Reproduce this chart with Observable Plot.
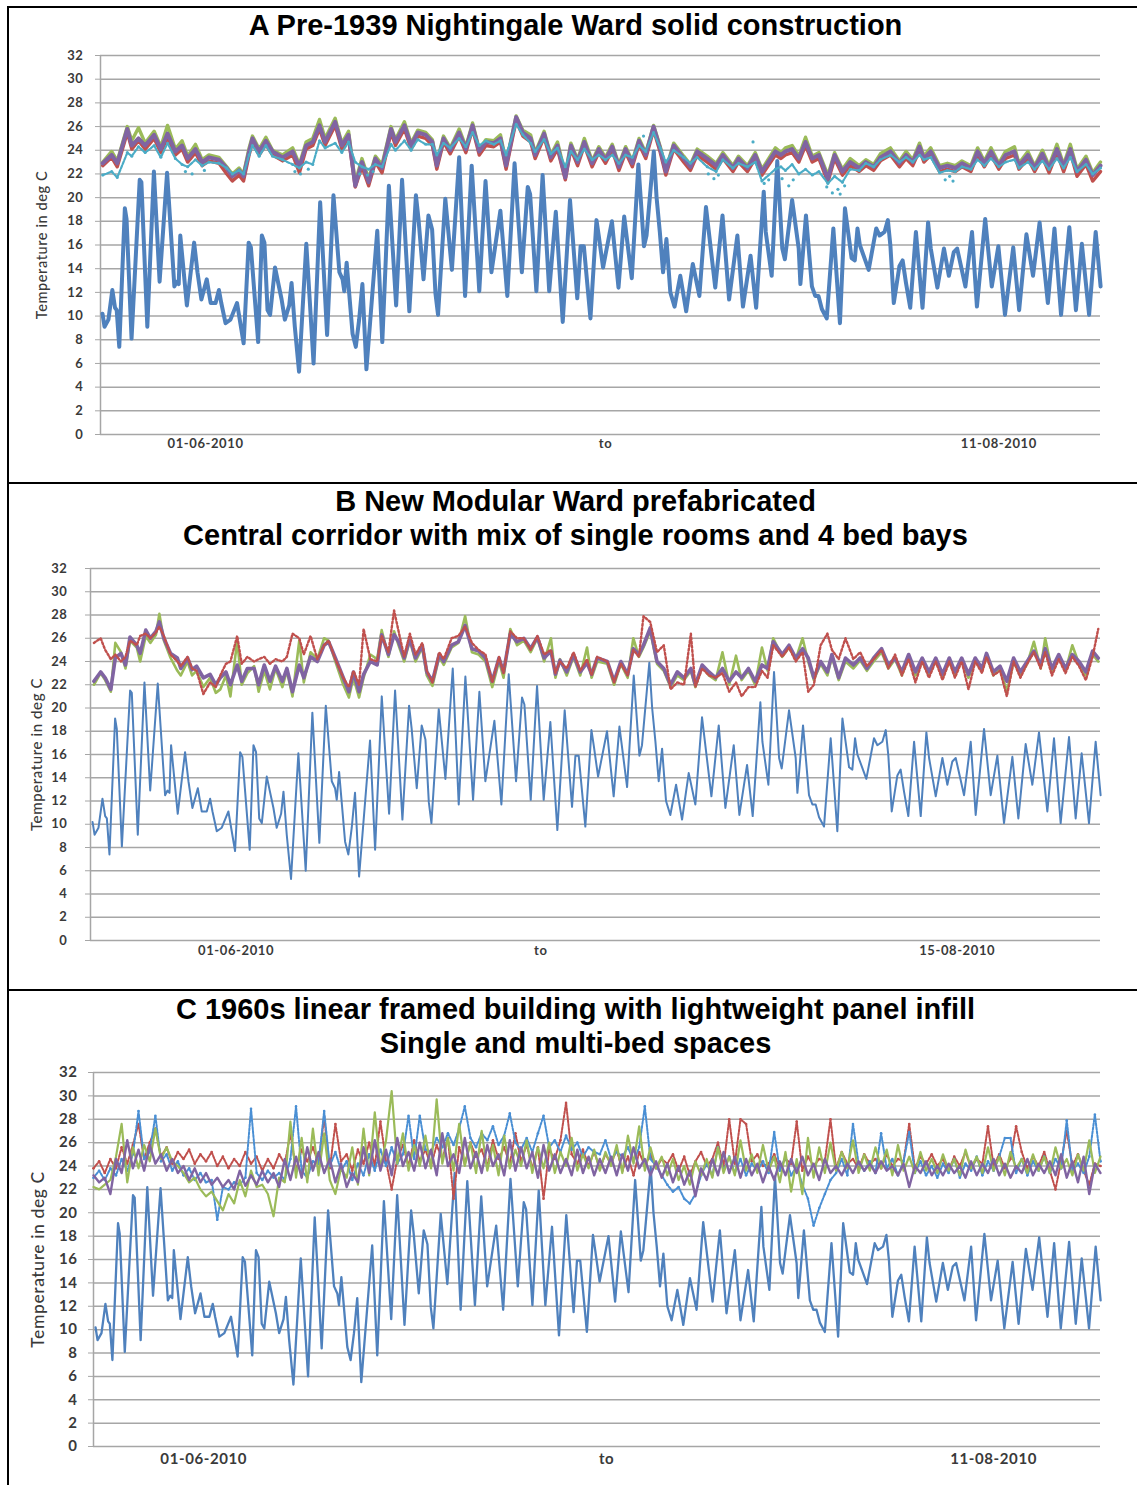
<!DOCTYPE html>
<html>
<head>
<meta charset="utf-8">
<script src="https://cdn.jsdelivr.net/npm/d3@7"></script>
<script src="https://cdn.jsdelivr.net/npm/@observablehq/plot@0.6"></script>
<style>
  body { margin: 0; background: #fff; }
  #page { position: relative; width: 1137px; height: 1485px; background: #fff; overflow: hidden;
          font-family: "Liberation Sans", Arial, sans-serif; }
  .rule { position: absolute; background: #000; }
  .title { position: absolute; left: 14px; width: 1123px; text-align: center; font-weight: bold;
           font-size: 29px; line-height: 34px; color: #000; white-space: nowrap; }
  .chart { position: absolute; left: 0; }
</style>
</head>
<body>
<div id="page">
  <div class="rule" style="left:7px; top:6px; width:1130px; height:2px"></div>
  <div class="rule" style="left:7px; top:482px; width:1130px; height:2px"></div>
  <div class="rule" style="left:7px; top:989px; width:1130px; height:2px"></div>
  <div class="rule" style="left:7px; top:6px; width:2px; height:1479px"></div>

  <div class="title" style="top:8px">A Pre-1939 Nightingale Ward solid construction</div>
  <div class="title" style="top:484px">B New Modular Ward prefabricated<br>Central corridor with mix of single rooms and 4 bed bays</div>
  <div class="title" style="top:992px">C 1960s linear framed building with lightweight panel infill<br>Single and multi-bed spaces</div>

  <div class="chart" id="chartA" style="top:40px"></div>
  <div class="chart" id="chartB" style="top:555px"></div>
  <div class="chart" id="chartC" style="top:1060px"></div>
</div>

<script>
// ---- Shared axis values ---------------------------------------------------
const yTicks = [0, 2, 4, 6, 8, 10, 12, 14, 16, 18, 20, 22, 24, 26, 28, 30, 32];
const yTitle = "Temperature in deg C";

// Logging period runs 89.5 days; x positions are days since the first reading.
const tickDaysA = [9.4, 45.2, 80.4];
const tickTextA = ["01-06-2010", "to", "11-08-2010"];
const tickDaysB = [12.9, 39.9, 76.8];
const tickTextB = ["01-06-2010", "to", "15-08-2010"];
const tickDaysC = [9.8, 45.6, 80.0];
const tickTextC = ["01-06-2010", "to", "11-08-2010"];

// ---- External air temperature (same record on all three charts) -----------
const outdoor = [
  [0.18,10.2],[0.36,9.1],[0.71,9.7],[1.06,12.2],[1.30,10.7],[1.45,10.5],[1.68,7.4],[2.18,19.1],[2.33,18.2],[2.78,8.1],
  [3.51,21.5],[3.66,21.3],[4.19,9.1],[4.78,22.2],[5.29,12.9],[5.96,22.1],[6.61,12.5],[6.82,12.9],[7.00,12.7],[7.14,16.8],
  [7.73,10.9],[8.38,16.2],[8.68,13.7],[9.03,11.4],[9.51,13.1],[9.86,11.1],[10.30,11.1],[10.60,12.2],[10.81,11.1],[11.19,9.4],
  [11.63,9.7],[12.22,11.1],[12.81,7.7],[13.26,16.2],[13.46,15.8],[14.11,7.8],[14.44,16.8],[14.67,16.2],[14.95,10.5],[15.18,10.1],
  [15.62,14.1],[16.21,11.4],[16.50,9.7],[16.89,10.9],[17.10,12.8],[17.39,9.1],[17.77,5.3],[18.42,16.1],[19.07,6.0],[19.66,19.6],
  [20.28,8.4],[20.85,20.2],[21.38,13.7],[21.67,13.1],[21.82,12.1],[22.03,14.5],[22.56,8.5],[22.85,7.4],[23.15,9.7],[23.44,12.7],
  [23.80,5.5],[24.77,17.2],[25.22,7.8],[25.81,21.0],[26.46,10.9],[26.99,21.5],[27.64,10.4],[28.23,20.2],[28.46,18.2],[28.91,13.1],
  [29.35,18.5],[29.68,17.3],[29.98,11.9],[30.21,10.1],[30.86,19.9],[31.45,13.9],[32.10,23.4],[32.63,11.7],[33.22,22.7],[33.90,12.1],
  [34.46,21.4],[34.99,13.7],[35.79,18.9],[36.41,11.7],[37.06,22.9],[37.71,13.7],[38.24,20.9],[38.45,20.3],[39.01,12.1],[39.57,21.9],
  [40.16,12.1],[40.75,18.8],[41.37,9.5],[42.02,19.8],[42.67,11.5],[42.97,15.9],[43.26,15.9],[43.85,9.8],[44.39,18.1],[44.59,16.8],
  [44.98,14.1],[45.77,18.0],[46.36,12.4],[46.87,18.4],[47.55,13.2],[48.14,22.8],[48.64,15.9],[48.87,16.8],[49.52,23.9],[49.77,20.0],
  [50.06,17.1],[50.35,13.7],[50.65,16.5],[51.00,12.0],[51.38,10.8],[51.89,13.4],[52.42,10.4],[53.01,14.4],[53.60,11.7],[54.19,19.2],
  [55.02,12.4],[55.67,18.5],[56.26,11.4],[57.00,16.8],[57.50,10.8],[58.18,15.1],[58.68,10.7],[59.36,20.5],[59.54,17.1],[60.07,13.4],
  [60.57,23.1],[61.02,15.7],[61.25,14.8],[61.90,19.8],[62.49,15.7],[62.64,12.7],[63.14,18.5],[63.67,12.5],[63.97,11.7],[64.26,11.7],
  [64.56,10.6],[65.00,9.8],[65.59,17.4],[66.18,9.4],[66.63,19.1],[67.22,14.9],[67.51,14.7],[67.75,17.4],[67.96,16.0],[68.75,13.9],
  [69.43,17.4],[69.73,16.8],[70.17,17.1],[70.47,18.1],[70.70,15.9],[71.00,11.1],[71.50,14.2],[71.79,14.7],[72.09,12.8],[72.47,10.7],
  [72.98,17.1],[73.57,10.7],[74.07,17.9],[74.31,15.7],[74.90,12.4],[75.49,15.7],[75.93,13.4],[76.37,15.4],[76.67,15.7],[77.41,12.5],
  [78.00,17.1],[78.44,10.8],[79.18,18.2],[79.77,12.5],[80.36,15.9],[80.95,10.1],[81.69,15.8],[82.22,10.5],[82.87,16.9],[83.46,13.4],
  [84.05,17.9],[84.79,11.1],[85.38,17.4],[85.97,10.1],[86.71,17.5],[87.30,10.5],[87.83,16.1],[88.48,10.1],[89.07,17.1],[89.51,12.5]
];

// ---- Ward A: four internal sensors, shared reading times -------------------
const timesA = [
  0.2,1.0,1.5,2.4,2.8,3.4,4.0,4.8,5.4,6.0,
  6.7,7.3,7.8,8.5,9.1,9.7,10.6,11.3,11.8,12.4,
  12.8,13.3,13.6,14.2,14.8,15.4,16.3,17.2,17.8,18.4,
  19.0,19.6,20.1,21.0,21.6,22.2,22.8,23.4,24.0,24.6,
  25.2,26.0,26.4,27.2,27.8,28.4,29.1,29.7,30.1,30.7,
  31.3,32.1,32.7,33.3,33.9,34.5,35.2,35.8,36.3,37.2,
  37.8,38.5,38.9,39.7,40.3,40.9,41.6,42.1,42.7,43.3,
  44.0,44.6,45.2,45.8,46.4,47.0,47.6,48.2,48.8,49.5,
  50.1,50.6,51.3,52.2,52.8,53.4,54.3,55.1,55.7,56.6,
  57.1,57.9,58.6,59.2,60.4,60.9,61.3,61.9,62.5,63.1,
  63.7,64.3,65.1,65.7,66.4,67.1,67.9,68.5,69.2,69.8,
  70.7,71.5,72.1,72.7,73.3,73.7,74.3,75.1,75.8,76.5,
  77.1,77.9,78.5,79.1,79.7,80.4,81.0,81.8,82.2,83.0,
  83.6,84.3,84.9,85.6,86.2,86.8,87.4,88.2,88.8,89.5
];
const wardAPurple = [
  22.9,23.6,22.9,25.8,24.4,25.0,24.4,25.3,24.1,25.4,
  23.9,24.4,23.3,24.1,23.0,23.4,23.2,22.5,21.8,22.3,
  21.8,23.9,25.0,23.9,24.8,23.9,23.4,23.9,22.6,24.4,
  24.7,26.1,24.7,26.4,24.4,25.3,21.0,23.0,21.3,23.3,
  22.5,25.8,24.7,26.1,24.4,25.5,25.3,24.7,22.7,25.0,
  24.0,25.5,24.1,26.1,23.9,24.7,24.6,25.0,22.7,26.8,
  25.5,25.0,23.6,25.4,23.4,24.4,21.7,24.4,23.0,24.7,
  22.9,24.1,23.2,24.3,22.6,24.1,22.9,24.8,23.6,26.0,
  24.1,22.2,24.4,23.3,22.6,23.9,23.3,22.7,23.6,22.5,
  23.3,22.5,23.6,22.2,23.9,23.6,23.9,24.1,23.3,24.7,
  23.3,23.6,21.6,23.6,22.2,23.0,22.5,23.0,22.6,23.4,
  23.9,22.9,23.6,23.0,24.3,23.3,23.9,22.5,22.7,22.5,
  22.9,22.5,23.9,22.9,23.9,22.7,23.6,23.9,22.7,23.6,
  22.5,23.7,22.5,24.1,22.6,24.1,22.2,23.2,21.9,22.7
];
const wardAGreen = [
  23.0,23.9,23.1,26.0,24.8,25.9,24.6,25.6,24.3,26.1,
  24.1,24.8,23.5,24.5,23.2,23.6,23.4,22.6,22.0,22.5,
  22.0,24.2,25.2,24.1,25.1,24.0,23.6,24.2,22.8,24.7,
  25.0,26.6,25.0,26.7,24.6,25.6,21.3,23.3,21.6,23.5,
  22.8,26.0,24.9,26.4,24.6,25.7,25.5,24.9,23.0,25.2,
  24.2,25.8,24.3,26.3,24.1,24.9,24.8,25.3,23.0,26.9,
  25.7,25.3,23.8,25.6,23.6,24.7,22.0,24.6,23.2,25.0,
  23.1,24.3,23.4,24.5,22.8,24.3,23.1,25.0,23.8,26.1,
  24.3,22.4,24.6,23.5,22.8,24.1,23.5,22.9,23.8,22.7,
  23.5,22.7,23.8,22.4,24.2,23.8,24.2,24.4,23.5,25.1,
  23.5,23.8,21.9,23.8,22.4,23.3,22.7,23.2,22.8,23.7,
  24.2,23.1,23.9,23.2,24.6,23.5,24.2,22.7,22.9,22.7,
  23.1,22.7,24.2,23.1,24.2,22.9,23.9,24.3,22.9,23.9,
  22.7,24.0,22.7,24.5,22.8,24.5,22.4,23.5,22.1,23.0
];
const wardARed = [
  22.7,23.4,22.6,25.5,24.1,24.8,24.1,25.0,23.8,25.1,
  23.6,24.1,23.0,23.8,22.7,23.1,22.9,22.0,21.4,21.9,
  21.4,23.6,24.7,23.6,24.5,23.6,23.1,23.6,22.1,24.1,
  24.4,25.8,24.4,26.1,24.1,25.0,20.9,22.6,21.0,23.0,
  22.1,25.5,24.4,25.8,24.1,25.2,25.0,24.4,22.4,24.7,
  23.7,25.2,23.8,25.8,23.6,24.4,24.3,24.7,22.4,26.5,
  25.2,24.7,23.3,25.1,23.1,24.1,21.5,24.1,22.7,24.4,
  22.6,23.8,22.9,24.0,22.3,23.8,22.6,24.5,23.3,25.7,
  23.8,21.9,24.1,23.0,22.3,23.6,23.0,22.4,23.3,22.2,
  23.0,22.2,23.3,21.9,23.6,23.3,23.6,23.8,23.0,24.4,
  23.0,23.3,21.3,23.3,21.9,22.7,22.2,22.7,22.3,23.1,
  23.6,22.6,23.3,22.7,24.0,23.0,23.6,22.2,22.4,22.2,
  22.6,22.2,23.6,22.6,23.6,22.4,23.3,23.6,22.4,23.3,
  22.2,23.4,22.1,23.8,22.2,23.8,21.8,22.8,21.4,22.2
];
const wardACyan = [
  21.9,22.2,21.7,23.8,23.5,24.3,23.8,24.4,23.4,24.6,
  23.3,22.8,22.6,23.2,22.7,23.0,22.9,22.5,22.0,22.3,
  22.0,23.6,24.4,23.5,24.4,23.5,23.2,22.8,22.5,23.0,
  22.8,24.8,24.2,24.6,23.8,24.7,23.0,22.6,22.4,22.8,
  22.6,24.5,24.0,24.8,24.0,24.9,24.5,24.5,23.6,24.6,
  24.2,25.0,24.3,25.5,24.4,24.8,24.5,24.8,23.6,26.2,
  25.3,24.6,23.9,24.9,23.7,24.2,22.6,23.9,23.2,24.1,
  23.2,23.6,23.2,23.6,22.9,23.6,23.4,24.4,23.9,25.5,
  24.2,23.0,24.0,23.4,22.9,23.4,22.6,22.2,23.2,22.5,
  22.9,22.6,23.0,21.4,22.4,22.6,22.3,22.8,22.0,22.4,
  21.9,22.2,21.2,21.8,21.3,22.4,22.3,22.9,22.6,23.2,
  23.6,23.0,23.4,23.0,23.6,23.2,23.4,22.1,22.3,22.2,
  22.6,22.4,23.2,22.7,23.3,22.6,23.0,23.2,22.5,23.0,
  22.4,23.1,22.4,23.3,22.5,23.4,22.2,22.8,22.0,22.5
];
// isolated low readings from the cyan logger
const wardACyanExtra = [
  [7.6,22.2],[8.2,22.0],[9.3,22.3],[17.4,22.2],[17.9,22.0],[18.6,22.4],[23.2,22.0],[23.9,21.9],[24.4,22.2],
  [48.6,25.2],[54.4,22.0],[54.9,21.6],[55.3,21.9],[58.4,24.7],[59.4,21.2],[59.8,21.5],[61.0,21.6],[61.6,21.0],
  [62.0,21.5],[65.0,20.9],[65.5,20.4],[66.0,20.7],[66.2,20.3],[66.6,21.0],[75.6,21.5],[76.0,21.8],[76.3,21.4]
];

// ---- Ward B: three internal sensors ---------------------------------------
const timesB = [
  0.3,0.9,1.3,1.8,2.2,2.7,3.1,3.5,4.1,4.4,
  4.9,5.3,5.8,6.1,6.5,7.1,7.7,8.0,8.6,9.0,
  9.4,10.0,10.6,11.1,11.5,12.0,12.4,13.0,13.4,13.9,
  14.5,14.9,15.4,15.9,16.4,17.0,17.4,17.9,18.5,18.9,
  19.5,20.1,20.7,21.1,21.7,22.4,22.9,23.3,23.8,24.2,
  24.8,25.4,25.8,26.4,26.9,27.3,27.8,28.3,28.8,29.4,
  29.8,30.3,30.9,31.3,32.0,32.6,33.2,33.8,34.4,35.0,
  35.6,36.2,36.6,37.2,37.8,38.4,39.0,39.6,40.2,40.8,
  41.2,41.6,42.2,42.8,43.4,44.0,44.4,44.9,45.8,46.4,
  47.0,47.6,48.1,48.6,49.0,49.6,50.2,50.8,51.4,52.0,
  52.6,53.2,53.6,54.2,54.8,55.4,56.0,56.6,57.2,57.7,
  58.3,58.9,59.5,60.0,60.5,61.3,61.9,62.5,63.1,63.6,
  64.1,64.7,65.3,65.7,66.3,66.9,67.6,68.2,68.8,69.4,
  70.1,70.7,71.3,71.9,72.5,73.1,73.7,74.3,74.9,75.5,
  76.1,76.6,77.2,77.8,78.4,79.0,79.4,80.0,80.6,81.2,
  81.8,82.4,83.0,83.6,84.2,84.6,85.2,85.8,86.4,87.0,
  87.6,88.2,88.8,89.3
];
const wardBPurple = [
  22.3,23.1,22.6,21.6,24.3,24.7,23.7,26.1,25.4,24.7,
  26.7,26.0,26.6,27.4,26.0,24.7,24.3,23.4,24.3,23.3,
  23.6,22.6,22.9,22.0,22.6,23.1,22.0,23.7,22.3,23.4,
  23.4,22.0,23.7,22.3,23.6,22.3,23.4,21.4,23.7,22.6,
  24.4,24.0,25.4,25.7,24.3,22.6,21.4,23.1,21.4,22.9,
  24.0,23.7,26.3,24.6,26.3,25.7,24.3,26.0,24.3,25.4,
  23.1,22.3,24.6,24.0,25.4,25.7,27.1,25.1,24.9,24.3,
  22.3,24.3,23.1,26.4,25.7,26.0,25.1,26.1,24.3,24.9,
  22.9,24.1,23.1,24.6,23.1,23.9,22.9,24.3,24.0,22.3,
  24.0,22.9,25.1,24.6,25.4,26.9,24.0,23.4,22.0,23.1,
  22.6,23.4,22.0,23.7,23.1,22.6,23.4,22.3,23.1,22.6,
  23.4,22.3,23.7,23.4,25.7,24.6,25.4,24.3,25.1,24.3,
  22.6,24.0,23.1,24.6,22.6,24.3,23.7,24.3,23.4,24.3,
  25.1,23.7,24.3,23.1,24.6,23.1,24.3,23.1,24.3,22.9,
  24.3,23.1,24.3,22.9,24.3,23.4,24.7,23.1,23.6,22.3,
  24.3,23.1,24.0,24.9,23.7,25.1,23.4,24.6,23.4,24.6,
  24.0,23.1,24.9,24.3
];
const wardBGreen = [
  22.0,23.0,22.4,21.4,25.6,24.8,23.4,25.8,25.2,24.0,
  26.2,25.6,26.3,28.1,25.8,24.3,23.2,22.8,24.0,22.8,
  23.2,21.8,22.6,21.3,21.6,22.8,21.0,25.8,22.0,23.0,
  23.6,21.4,23.2,21.6,23.4,21.8,23.2,21.0,25.8,22.2,
  24.8,24.2,26.0,25.8,24.0,22.0,20.9,22.6,20.9,22.6,
  24.6,24.2,26.7,24.4,26.6,25.4,24.0,25.8,24.0,25.2,
  22.8,21.9,24.4,23.7,25.2,25.6,27.9,24.8,24.6,24.0,
  21.8,24.0,22.6,26.8,25.4,25.8,24.8,26.0,24.0,26.0,
  22.6,24.2,22.8,24.4,22.8,25.2,22.6,24.0,23.8,22.0,
  23.8,22.6,26.0,24.4,25.2,26.6,23.8,23.2,21.8,22.8,
  22.4,23.2,21.8,23.6,22.8,22.4,24.8,22.0,24.5,22.4,
  23.2,22.0,25.2,23.2,26.0,24.4,25.2,24.2,26.0,24.0,
  22.4,23.8,22.8,24.4,22.4,24.0,23.4,24.1,23.2,24.0,
  24.8,23.4,24.2,22.8,24.4,22.8,24.0,22.8,24.1,22.6,
  24.0,22.8,24.2,22.6,24.1,23.2,24.5,22.8,23.4,21.4,
  24.0,22.8,23.8,25.7,23.4,26.0,23.2,24.4,23.2,25.4,
  23.8,22.8,24.6,24.0
];
const wardBRed = [
  25.6,26.0,25.0,24.2,24.6,24.0,24.4,25.8,25.4,26.2,
  26.4,26.0,26.5,27.0,26.2,24.6,24.0,23.6,24.4,23.4,
  23.2,21.2,22.2,21.8,22.8,23.8,24.0,26.2,23.8,24.4,
  24.0,24.2,24.4,23.8,24.2,24.0,24.4,26.4,26.0,24.6,
  26.2,24.2,25.4,25.8,24.2,22.6,21.8,23.2,22.0,26.8,
  24.2,24.0,26.2,24.8,28.4,26.6,24.4,26.4,24.6,25.6,
  23.2,22.2,24.8,24.2,26.0,26.2,27.0,25.6,25.0,24.6,
  22.2,24.4,23.0,26.6,26.0,26.0,25.0,26.2,24.6,25.0,
  23.0,24.0,23.4,24.8,23.2,24.2,22.8,24.4,24.0,22.2,
  23.8,22.8,25.0,24.4,27.9,27.4,24.8,25.4,21.6,22.2,
  22.0,26.4,21.8,23.4,22.8,22.6,23.0,21.4,22.2,21.0,
  21.8,21.8,23.2,22.6,25.4,24.4,25.2,24.0,24.8,21.4,
  22.0,25.4,26.4,25.0,24.2,26.0,24.2,24.8,23.6,24.2,
  25.0,23.4,24.6,22.8,24.2,22.2,24.0,22.6,24.0,22.4,
  24.0,22.6,24.0,21.6,24.0,23.0,24.4,22.8,23.2,21.0,
  24.0,22.6,23.8,24.8,23.4,24.8,22.8,24.2,23.0,24.4,
  23.6,22.4,24.4,26.8
];

// ---- Ward C: four internal sensors, twice-daily readings -------------------
const timesC = d3.range(0, 90, 0.5);
const wardCPurple = [
  23.2,22.6,23.0,21.6,24.6,23.4,26.2,23.8,25.4,23.6,
  25.8,24.2,25.0,23.6,24.6,23.4,24.0,22.8,23.8,22.6,
  23.4,22.4,23.0,22.2,22.8,22.0,23.6,22.3,23.2,22.4,
  23.6,22.6,23.4,22.2,24.6,22.8,24.8,23.0,25.6,23.6,
  25.2,23.4,24.6,22.6,24.2,22.2,23.4,22.6,25.6,23.4,
  26.2,23.6,25.4,23.2,26.4,24.0,25.2,23.6,26.0,23.8,
  25.4,23.2,26.8,24.0,25.0,23.4,26.4,23.8,25.2,23.4,
  25.8,24.0,25.0,23.2,26.2,23.6,25.6,23.8,25.2,23.0,
  25.8,23.6,25.0,23.4,24.6,23.2,25.4,23.4,24.8,23.2,
  24.6,23.4,24.8,23.2,25.0,23.6,25.6,23.8,24.6,23.2,
  24.4,23.0,24.2,22.6,24.0,22.4,23.6,21.4,23.8,22.8,
  24.6,23.2,25.2,23.4,24.8,23.0,24.6,23.2,24.2,22.6,
  24.0,22.8,24.4,23.2,24.6,23.4,24.8,23.2,24.2,22.8,
  24.6,23.4,24.0,23.2,24.2,23.4,24.4,23.6,24.2,23.4,
  24.4,23.6,24.0,23.2,24.2,22.2,24.0,23.4,24.4,23.2,
  24.0,23.2,24.2,23.4,24.0,23.0,24.4,23.2,24.2,23.4,
  24.6,23.2,24.2,23.0,24.0,23.4,24.6,23.2,24.2,23.4,
  24.4,23.2,25.0,23.0,24.4,22.6,24.8,21.6,24.2,23.4
];
const wardCGreen = [
  22.2,22.0,22.4,22.8,24.8,27.6,22.6,25.6,23.8,25.8,
  24.4,27.2,24.6,25.6,24.4,24.0,23.4,22.6,23.0,22.0,
  21.4,21.8,21.0,20.2,21.6,20.8,22.8,21.4,23.6,22.2,
  22.4,21.6,19.7,23.0,22.6,27.8,23.0,26.4,22.6,27.2,
  23.2,26.8,22.8,21.6,23.8,23.0,25.6,22.4,27.2,23.2,
  28.6,23.8,26.2,30.4,24.2,26.8,23.6,25.8,24.0,26.6,
  23.8,29.7,24.2,26.4,23.6,27.6,24.0,26.0,23.4,27.0,
  23.6,25.8,23.2,26.6,23.8,25.4,24.0,26.2,23.4,25.6,
  23.8,26.0,23.4,25.2,24.0,26.4,23.6,25.0,23.8,25.4,
  23.6,25.2,24.0,25.8,23.4,26.6,24.2,27.4,23.6,25.6,
  23.8,24.8,23.2,24.6,22.8,24.0,22.4,24.4,23.2,24.6,
  23.0,25.6,23.4,24.8,23.2,26.2,23.6,25.0,23.4,25.8,
  23.6,24.8,22.6,25.2,21.8,24.6,21.6,26.4,23.0,25.6,
  23.4,26.0,23.6,25.2,23.8,26.2,23.4,25.0,23.6,25.6,
  23.8,25.4,23.2,25.8,23.6,24.8,23.4,25.2,23.6,24.6,
  23.4,25.0,23.6,24.6,23.2,25.4,23.8,24.8,23.4,25.6,
  23.6,24.8,23.2,25.2,23.8,24.6,23.4,25.0,23.6,24.8,
  23.4,25.6,23.8,24.6,23.2,25.0,23.6,26.2,23.4,24.8
];
const wardCRed = [
  23.8,24.4,23.4,24.6,23.8,25.6,24.2,25.8,27.6,24.6,
  26.0,27.2,24.8,25.6,24.2,25.2,24.6,25.4,24.2,25.0,
  24.4,25.2,24.0,24.8,23.8,24.6,24.0,25.2,24.2,24.8,
  23.6,24.6,23.8,25.0,24.2,26.8,23.6,25.4,24.4,25.6,
  24.2,28.2,23.8,27.6,24.4,25.0,23.6,25.4,24.2,26.0,
  24.0,27.8,24.4,22.0,24.6,25.8,24.0,26.2,24.4,25.4,
  24.0,25.8,24.6,26.4,21.2,25.6,24.2,26.0,24.8,25.4,
  24.0,26.2,24.6,25.6,24.2,26.8,24.4,25.8,23.8,25.6,
  21.2,25.4,24.6,26.2,29.4,25.0,24.2,25.4,24.0,25.2,
  23.8,25.0,24.2,25.4,23.6,24.8,23.2,25.2,24.0,25.0,
  23.8,24.6,24.2,25.0,23.6,24.8,23.2,24.4,25.2,24.0,
  24.6,26.0,24.0,28.0,24.2,28.0,27.6,24.4,25.0,24.0,
  24.2,25.0,23.8,24.6,24.2,27.8,23.6,24.8,24.0,24.6,
  24.4,28.0,23.8,25.2,24.2,24.6,23.8,25.0,24.2,24.6,
  23.8,25.0,24.0,24.6,24.4,27.6,23.8,24.8,24.2,25.0,
  24.0,24.6,23.6,24.8,24.0,25.2,23.8,24.6,24.2,27.4,
  24.0,25.0,23.8,24.6,27.4,25.2,23.8,24.8,24.0,25.2,
  23.6,22.0,24.4,27.0,24.0,25.0,23.6,22.4,24.2,24.0
];
const wardCBlue = [
  23.0,23.6,22.8,23.8,23.2,24.6,23.6,25.0,28.7,24.6,
  25.2,28.3,24.4,25.0,23.6,24.4,23.2,23.8,22.8,23.4,
  22.6,22.8,19.4,22.2,22.0,22.6,22.4,23.0,28.9,23.4,
  22.8,23.6,23.0,23.4,22.8,24.6,29.1,23.6,23.0,24.4,
  24.2,28.7,24.0,25.2,23.6,24.4,22.8,24.2,23.2,25.0,
  23.6,25.4,24.0,25.6,24.2,25.0,28.3,24.6,28.3,25.4,
  25.2,26.4,25.6,26.8,25.8,27.2,29.1,26.4,25.6,26.8,
  26.2,27.4,25.8,26.6,28.5,26.0,25.4,26.4,25.2,26.8,
  28.3,25.6,26.2,25.2,26.6,25.4,26.0,24.8,25.6,25.2,
  25.0,26.2,24.6,25.2,24.8,25.6,24.4,25.6,29.1,24.6,
  24.0,23.2,22.4,21.8,22.2,21.2,20.8,21.6,23.2,24.2,
  23.2,25.6,23.6,24.8,23.4,24.6,23.2,24.2,23.6,24.4,
  23.4,26.9,23.6,24.8,23.2,24.0,22.4,21.2,18.9,20.4,
  21.6,22.8,23.4,24.6,23.2,27.6,24.2,23.6,24.4,23.4,
  26.8,23.8,24.6,23.2,24.4,26.9,23.4,24.4,23.2,24.0,
  23.0,24.2,23.4,24.6,23.0,24.2,23.6,24.8,23.2,24.4,
  23.6,24.8,26.4,26.4,23.4,24.6,23.2,24.4,23.6,24.8,
  23.4,24.6,23.8,27.9,23.6,24.2,23.4,24.8,28.4,24.4
];

// ---- Colours (Office palette) ---------------------------------------------
const BLUE = "#4f81bd", PURPLE = "#8064a2", GREEN = "#9bbb59", RED = "#c0504d",
      CYAN = "#4bacc6", LIGHTBLUE = "#4a8fd4";
const GRID = "#a6a6a6";

// ---- Helpers ----------------------------------------------------------------
const zipSeries = (times, values) =>
  times.map((t, i) => ({t, v: values[i]})).filter(d => d.v != null);
const fromPairs = list => list.map(([t, v]) => ({t, v}));
const outdoorData = fromPairs(outdoor);

const line = (data, stroke, strokeWidth, extra = {}) =>
  Plot.line(data, {x: "t", y: "v", stroke, strokeWidth, strokeLinejoin: "round", strokeLinecap: "round", ...extra});
const dots = (data, fill, r) => Plot.dot(data, {x: "t", y: "v", fill, r, stroke: "none"});

function panel(el, cfg) {
  const labels = new Map(cfg.tickDays.map((d, i) => [d, cfg.tickText[i]]));
  const chart = Plot.plot({
    width: 1137,
    height: cfg.height,
    marginTop: cfg.marginTop,
    marginBottom: cfg.marginBottom,
    marginLeft: cfg.marginLeft,
    marginRight: 37,
    style: {fontFamily: "Lato, 'Open Sans', sans-serif", fontSize: cfg.fontSize + "px", color: "#3a3a3a",
            background: "transparent", overflow: "visible", letterSpacing: "0.6px"},
    x: {domain: [0, 89.5]},
    y: {domain: [0, 32]},
    marks: [
      Plot.gridY(yTicks, {stroke: GRID, strokeOpacity: 1, strokeWidth: 1.5}),
      Plot.ruleX([0], {stroke: GRID, strokeWidth: 1.5}),
      Plot.axisY(yTicks, {tickSize: 5, tickPadding: cfg.yPad, stroke: GRID, fontWeight: "bold", label: null}),
      Plot.axisX(cfg.tickDays, {tickSize: 0, tickPadding: cfg.xPad, fontWeight: "bold", label: null,
                                tickFormat: d => labels.get(d)}),
      // vertical axis title, centred on the plot height
      Plot.text([yTitle], {frameAnchor: "left", textAnchor: "middle", rotate: -90, dx: cfg.titleDx,
                           fontSize: cfg.titleSize, fill: "#3a3a3a", fontWeight: 500}),
      ...cfg.marks
    ]
  });
  document.getElementById(el).appendChild(chart);
}

// A Pre-1939 Nightingale ward
panel("chartA", {
  height: 430, marginTop: 15, marginBottom: 36, marginLeft: 100,
  fontSize: 13, yPad: 12, xPad: 4, titleDx: -58, titleSize: 14.5,
  tickDays: tickDaysA, tickText: tickTextA,
  marks: [
    line(outdoorData, BLUE, 4),
    line(zipSeries(timesA, wardARed), RED, 3.4),
    line(zipSeries(timesA, wardAGreen), GREEN, 3.4),
    line(zipSeries(timesA, wardAPurple), PURPLE, 4),
    line(zipSeries(timesA, wardACyan), CYAN, 2.2, {strokeDasharray: "3,1.6"}),
    dots(zipSeries(timesA, wardACyan), CYAN, 1.5),
    dots(fromPairs(wardACyanExtra), CYAN, 1.6)
  ]
});

// B New modular ward
panel("chartB", {
  height: 420, marginTop: 13, marginBottom: 35, marginLeft: 90,
  fontSize: 13, yPad: 18, xPad: 5, titleDx: -53, titleSize: 15,
  tickDays: tickDaysB, tickText: tickTextB,
  marks: [
    line(outdoorData, BLUE, 2),
    line(zipSeries(timesB, wardBGreen), GREEN, 2.6),
    line(zipSeries(timesB, wardBPurple), PURPLE, 3.6),
    line(zipSeries(timesB, wardBRed), RED, 2.4, {strokeDasharray: "2,2.2"})
  ]
});

// C 1960s framed building
panel("chartC", {
  height: 420, marginTop: 12, marginBottom: 34, marginLeft: 93,
  fontSize: 15, yPad: 11, xPad: 7, titleDx: -55, titleSize: 17.5,
  tickDays: tickDaysC, tickText: tickTextC,
  marks: [
    line(outdoorData, BLUE, 2.3),
    line(zipSeries(timesC, wardCRed), RED, 2, {strokeDasharray: "2.5,1.5"}),
    dots(zipSeries(timesC, wardCRed), RED, 1.3),
    line(zipSeries(timesC, wardCBlue), LIGHTBLUE, 2, {strokeDasharray: "2.5,1.5"}),
    dots(zipSeries(timesC, wardCBlue), LIGHTBLUE, 1.3),
    line(zipSeries(timesC, wardCGreen), GREEN, 2.2),
    line(zipSeries(timesC, wardCPurple), PURPLE, 2.4)
  ]
});
</script>
</body>
</html>
